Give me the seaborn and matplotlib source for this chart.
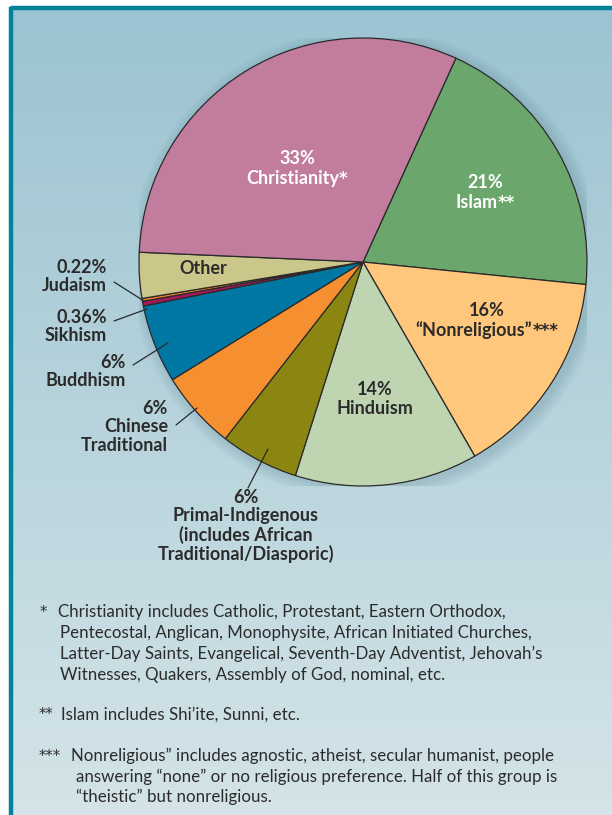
import numpy as np
import matplotlib
matplotlib.use("Agg")
import matplotlib.pyplot as plt
import seaborn as sns
from matplotlib.colors import LinearSegmentedColormap
from matplotlib.lines import Line2D
from matplotlib.patches import Circle

# ---------------- data ----------------
religions = ["Islam", "Nonreligious", "Hinduism", "Primal-Indigenous",
             "Chinese Traditional", "Buddhism", "Sikhism", "Judaism",
             "Other", "Christianity"]
shares = [21, 16, 14, 6, 6, 6, 0.36, 0.22, 3.5, 33]
pct_labels = ["21%", "16%", "14%", "6%", "6%", "6%", "0.36%", "0.22%", "", "33%"]
name_labels = ["Islam", "\u201cNonreligious\u201d", "Hinduism",
               "Primal-Indigenous\n(includes African\nTraditional/Diasporic)",
               "Chinese\nTraditional", "Buddhism", "Sikhism", "Judaism",
               "Other", "Christianity"]
note_marks = ["**", "***", "", "", "", "", "", "", "", "*"]
slice_colors = ["#6BA66C", "#FFC77C", "#BFD5B2", "#8B8612", "#F58F2F",
                "#0078A3", "#A3175C", "#F27F2E", "#CBC68A", "#C27C9E"]
footnotes = [
    ("*", "Christianity includes Catholic, Protestant, Eastern Orthodox,"),
    ("", "Pentecostal, Anglican, Monophysite, African Initiated Churches,"),
    ("", "Latter-Day Saints, Evangelical, Seventh-Day Adventist, Jehovah\u2019s"),
    ("", "Witnesses, Quakers, Assembly of God, nominal, etc."),
    ("**", "Islam includes Shi\u2019ite, Sunni, etc."),
    ("***", "Nonreligious\u201d includes agnostic, atheist, secular humanist, people"),
    ("", "answering \u201cnone\u201d or no religious preference. Half of this group is"),
    ("", "\u201ctheistic\u201d but nonreligious."),
]

# ---------------- style ----------------
sns.set_theme(style="white")
plt.rcParams["font.family"] = ["Lato", "DejaVu Sans"]
TXT = "#2B2B2B"

W, H = 612, 815
fig = plt.figure(figsize=(W / 100, H / 100), dpi=100)
fig.patch.set_facecolor("white")
renderer = fig.canvas.get_renderer()

def fx(x):
    return x / W

def fy(y):
    return 1 - y / H

# background panel with gradient
bg = fig.add_axes([fx(9), 0, 1 - fx(9), fy(6)])
grad = np.linspace(0, 1, 256).reshape(-1, 1)
cmap = LinearSegmentedColormap.from_list("bg", ["#9BC3D1", "#B7D3DC", "#D4E4E8"])
bg.imshow(grad, aspect="auto", cmap=cmap, extent=[0, 1, 0, 1], origin="upper")
bg.set_xlim(0, 1)
bg.set_ylim(0, 1)
bg.axis("off")
# teal border on top and left
fig.add_artist(Line2D([fx(11), 1], [fy(8), fy(8)], color="#00849B", lw=3.2,
                      solid_capstyle="butt"))
fig.add_artist(Line2D([fx(11), fx(11)], [0, fy(6.5)], color="#00849B", lw=3.2,
                      solid_capstyle="butt"))

# pie axes: centre (363,262), radius 224 px
cx, cy, r = 363, 262, 224
ax = fig.add_axes([fx(cx - r), fy(cy + r), 2 * r / W, 2 * r / H])

# soft shadow
for k in range(7):
    ax.add_patch(Circle((0.015, -0.012), 1.0 + 0.008 * (k + 1), color="#3F6F80",
                        alpha=0.03, lw=0, zorder=0))

wedges, _ = ax.pie(shares, colors=slice_colors, startangle=65.5, counterclock=False,
                   radius=1.0,
                   wedgeprops=dict(edgecolor="#2A2A2A", linewidth=0.9))
ax.set_xlim(-1, 1)
ax.set_ylim(-1, 1)
ax.set_aspect("equal")
ax.axis("off")

FS = 13
def lab(x, y, s, ha="center", color=TXT):
    fig.text(fx(x), fy(y), s, ha=ha, va="center", ma=ha if ha != "center" else "center",
             fontsize=FS, fontweight="bold", color=color, linespacing=1.08)

def starred(x, y_base, pct, name, marks, color):
    # percentage line
    fig.text(fx(x), fy(y_base - 20), pct, ha="center", va="baseline",
             fontsize=FS, fontweight="bold", color=color)
    # name + footnote marks, centred as a unit
    t1 = fig.text(0, fy(y_base), name, ha="left", va="baseline",
                  fontsize=FS, fontweight="bold", color=color)
    t2 = fig.text(0, fy(y_base), marks, ha="left", va="baseline",
                  fontsize=FS - 1, fontweight="bold", color=color,
                  family="DejaVu Sans")
    w1 = t1.get_window_extent(renderer).width
    w2 = t2.get_window_extent(renderer).width
    left = x - (w1 + w2) / 2
    t1.set_x(fx(left))
    t2.set_x(fx(left + w1))

starred(297, 184, pct_labels[9], name_labels[9], note_marks[9], "white")
starred(485, 208, pct_labels[0], name_labels[0], note_marks[0], "white")
starred(487, 336, pct_labels[1], name_labels[1], note_marks[1], TXT)
lab(375, 399, pct_labels[2] + "\n" + name_labels[2])
lab(203, 268, name_labels[8])
lab(107, 276.5, pct_labels[7] + "\n" + name_labels[7], ha="right")
lab(107, 326.5, pct_labels[6] + "\n" + name_labels[6], ha="right")
lab(126, 371.5, pct_labels[5] + "\n" + name_labels[5], ha="right")
lab(168, 427, pct_labels[4] + "\n" + name_labels[4], ha="right")
lab(246, 526, pct_labels[3] + "\n" + name_labels[3])

# leader lines
leaders = [((114, 282), (144, 301)), ((114, 321), (147, 309)),
           ((133, 365), (168, 343)), ((176, 425), (197, 408)),
           ((248, 488), (268, 449))]
for (x0, y0), (x1, y1) in leaders:
    fig.add_artist(Line2D([fx(x0), fx(x1)], [fy(y0), fy(y1)], color="#2A2A2A", lw=0.9))

# footnotes
FFS = 12.2
foot_y = [612, 633, 654, 675, 715, 756, 777, 797]
star_x = [40, 0, 0, 0, 39, 39, 0, 0]
text_x = [58, 60, 60, 60, 61, 71, 76, 76]
for (star, line), y, sx, tx in zip(footnotes, foot_y, star_x, text_x):
    if star:
        fig.text(fx(sx), fy(y), star, ha="left", va="center", fontsize=FFS - 1.5,
                 color=TXT, family="DejaVu Sans")
    fig.text(fx(tx), fy(y), line, ha="left", va="center", fontsize=FFS, color=TXT)

fig.savefig("out.png", dpi=100, facecolor=fig.get_facecolor())
